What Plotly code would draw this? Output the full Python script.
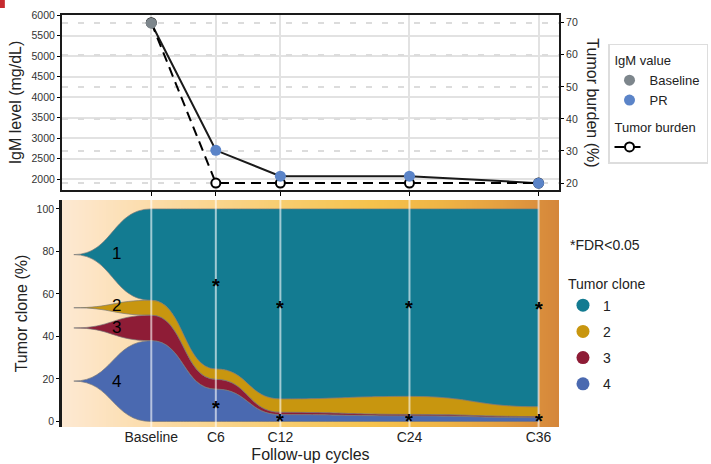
import plotly.graph_objects as go

# ---------------- data ----------------
timepoints = ["Baseline", "C6", "C12", "C24", "C36"]
cycles = [0, 6, 12, 24, 36]
igm_level = [5800, 2700, 2070, 2070, 1900]
igm_status = ["Baseline", "PR", "PR", "PR", "PR"]
tumor_burden = [70, 20, 20, 20, 20]

clone_names = ["1", "2", "3", "4"]
clone1 = [43.0, 75.3, 89.4, 88.2, 93.1]
clone2 = [7.0, 4.9, 6.3, 8.5, 4.6]
clone3 = [12.0, 4.6, 1.1, 0.7, 0.5]
clone4 = [38.0, 15.2, 3.2, 2.6, 1.8]
clone_origin = [78.5, 53.5, 44.0, 19.0]   # emergence level of each clone
origin_cycle = -7.2
fdr_star_high = [None, 64.8, 54.4, 54.4, 53.8]
fdr_star_low = [None, 7.4, 1.2, 1.2, 1.2]

# ---------------- style ----------------
FONT = "Arial, Liberation Sans, sans-serif"
clone_colors = ["#137b91", "#c8960f", "#8e1c36", "#4a69b0"]
grad_pos = [-8.4, -0.1, 12, 20.4, 26.9, 32.5, 38.0]
grad_col = ["#fde9d3", "#fcdcaa", "#f8cd70", "#f6c24c", "#efb445", "#e49f40", "#d4853a"]
XR = [-8.3, 37.9]
IGM_RANGE = [1730, 6000]
TOP_DOMAIN = [0.575, 1]

fig = go.Figure()

# background gradient of lower panel
n = len(grad_pos)
fig.add_trace(go.Heatmap(
    x=grad_pos, y=[-10, 115], z=[list(range(n)), list(range(n))],
    colorscale=[[i / (n - 1), c] for i, c in enumerate(grad_col)],
    zsmooth="best", showscale=False, hoverinfo="skip",
    xaxis="x2", yaxis="y3"))

# ---------------- top panel ----------------
fig.add_trace(go.Scatter(
    x=cycles, y=igm_level, mode="lines", line=dict(color="#1a1a1a", width=2),
    showlegend=False, xaxis="x", yaxis="y", hoverinfo="skip"))
for status, col in [("Baseline", "#7d868c"), ("PR", "#5b84c8")]:
    xs = [c for c, s in zip(cycles, igm_status) if s == status]
    ys = [v for v, s in zip(igm_level, igm_status) if s == status]
    fig.add_trace(go.Scatter(
        x=xs, y=ys, mode="markers", name=status,
        marker=dict(size=11, color=col),
        legendgroup="igm", legendgrouptitle=dict(text="IgM value"),
        xaxis="x", yaxis="y4", legend="legend"))
fig.add_trace(go.Scatter(
    x=cycles, y=tumor_burden, yaxis="y2", xaxis="x",
    mode="lines+markers", name="",
    line=dict(color="black", width=2, dash="10px,6px"),
    marker=dict(symbol="circle", size=9, color="white", line=dict(color="black", width=2)),
    legendgroup="tb", legendgrouptitle=dict(text="Tumor burden"), legend="legend"))

# ---------------- bottom panel streams ----------------
fractions = [clone1, clone2, clone3, clone4]
lowers, uppers = {}, {}
base = [0.0] * len(cycles)
for idx in [3, 2, 1, 0]:
    lo = base[:]
    up = [b + f for b, f in zip(base, fractions[idx])]
    lowers[idx], uppers[idx] = lo, up
    base = up


def stream_path(x0, y0, xs, lo, up):
    p = f"M {x0},{y0}"
    px, py = x0, y0
    for x, u in zip(xs, up):
        xm = (px + x) / 2
        p += f" C {xm},{py} {xm},{u} {x},{u}"
        px, py = x, u
    p += f" L {xs[-1]},{lo[-1]}"
    px, py = xs[-1], lo[-1]
    for x, l in zip(reversed(xs[:-1]), reversed(lo[:-1])):
        xm = (px + x) / 2
        p += f" C {xm},{py} {xm},{l} {x},{l}"
        px, py = x, l
    xm = (px + x0) / 2
    p += f" C {xm},{py} {xm},{y0} {x0},{y0} Z"
    return p


shapes = []
for idx in [0, 1, 2, 3]:
    shapes.append(dict(
        type="path", xref="x2", yref="y3", layer="above",
        path=stream_path(origin_cycle, clone_origin[idx], cycles, lowers[idx], uppers[idx]),
        fillcolor=clone_colors[idx], line=dict(color="rgba(120,120,120,0.85)", width=0.8)))

for c in cycles:
    shapes.append(dict(type="line", xref="x2", yref="y3 domain", x0=c, x1=c, y0=0, y1=1,
                       layer="above", line=dict(color="rgba(255,255,255,0.6)", width=2)))

# small red corner mark
shapes.append(dict(type="rect", xref="paper", yref="paper", x0=-0.126, x1=-0.115,
                   y0=1.017, y1=1.04, fillcolor="#c62a2f", line=dict(width=0), layer="above"))

for idx in range(4):
    fig.add_trace(go.Scatter(
        x=[None], y=[None], mode="markers", name=clone_names[idx],
        marker=dict(size=13, color=clone_colors[idx]),
        legend="legend2", legendgroup=f"c{idx}", xaxis="x2", yaxis="y3",
        legendgrouptitle=dict(text="Tumor clone") if idx == 0 else None))

annotations = []
label_y = [79, 54.4, 44, 18.6]
for idx in range(4):
    annotations.append(dict(x=-3.2, y=label_y[idx], xref="x2", yref="y3", text=clone_names[idx],
                            showarrow=False, font=dict(size=17, color="black", family=FONT)))
for c, h, l in zip(cycles, fdr_star_high, fdr_star_low):
    for v in (h, l):
        if v is not None:
            annotations.append(dict(x=c, y=v, xref="x2", yref="y3", text="<b>*</b>",
                                    showarrow=False, yshift=1, height=16, valign="top",
                                    font=dict(size=20, color="black", family=FONT)))

annotations.append(dict(x=1.068, y=0.786, xref="paper", yref="paper", text="Tumor burden (%)",
                        textangle=90, showarrow=False, xanchor="center", yanchor="middle",
                        font=dict(size=16, color="#222", family=FONT)))
annotations.append(dict(x=1.0185, y=0.442, xref="paper", yref="paper", text="*FDR<0.05",
                        xanchor="left", yanchor="middle", showarrow=False,
                        font=dict(size=14, color="#222", family=FONT)))

grid = "#e2e2e2"
fig.update_layout(
    width=711, height=464,
    margin=dict(l=62, r=152, t=15, b=37, autoexpand=False),
    paper_bgcolor="white", plot_bgcolor="white",
    font=dict(family=FONT, color="#222"),
    shapes=shapes, annotations=annotations,
    xaxis=dict(domain=[0, 1], range=XR, tickvals=cycles, ticktext=timepoints,
               showticklabels=False, ticks="outside", ticklen=4, tickcolor="black",
               showgrid=True, gridcolor=grid, gridwidth=2,
               showline=True, mirror=True, linecolor="#1a1a1a", linewidth=2,
               zeroline=False, anchor="y"),
    yaxis=dict(domain=TOP_DOMAIN, range=IGM_RANGE, tickvals=list(range(2000, 6001, 500)),
               ticks="outside", ticklen=3, tickcolor="black",
               tickfont=dict(size=10.5, color="#333"),
               showgrid=True, gridcolor=grid, gridwidth=1.5,
               showline=True, mirror=True, linecolor="#1a1a1a", linewidth=2, zeroline=False,
               title=dict(text="IgM level (mg/dL)", font=dict(size=16, color="#222"), standoff=6),
               anchor="x"),
    yaxis2=dict(overlaying="y", side="right", anchor="x", range=[17.8, 72.4], domain=TOP_DOMAIN,
                tickvals=[20, 30, 40, 50, 60, 70], ticks="outside", ticklen=3, tickcolor="black",
                tickfont=dict(size=10.5, color="#333"),
                showgrid=True, gridcolor="#dcdcdc", gridwidth=1.5, griddash="6px,10px",
                showline=True, linecolor="#1a1a1a", linewidth=2, zeroline=False),
    yaxis4=dict(overlaying="y", side="left", anchor="x", range=IGM_RANGE, domain=TOP_DOMAIN,
                showticklabels=False, ticks="", showline=False,
                showgrid=False, zeroline=False),
    xaxis2=dict(domain=[0, 1], range=XR, tickvals=cycles, ticktext=timepoints,
                tickfont=dict(size=14, color="#222"), ticks="", ticklabelstandoff=0,
                showgrid=False, showline=False, zeroline=False, anchor="y3",
                title=dict(text="Follow-up cycles", font=dict(size=16, color="#222"), standoff=4)),
    yaxis3=dict(domain=[0, 0.551], range=[-2.6, 104.2], tickvals=[0, 20, 40, 60, 80, 100],
                ticks="outside", ticklen=3, tickcolor="black",
                tickfont=dict(size=10.5, color="#333"), showgrid=False, zeroline=False,
                showline=True, linecolor="#1a1a1a", linewidth=2.5, anchor="x2",
                title=dict(text="Tumor clone (%)", font=dict(size=16, color="#222"), standoff=6)),
    legend=dict(x=1.0986, y=0.93, xanchor="left", yanchor="top",
                bordercolor="#dddddd", borderwidth=1.5, bgcolor="white",
                font=dict(size=13, color="#222"), tracegroupgap=7, itemwidth=30,
                grouptitlefont=dict(size=13, color="#222"), traceorder="grouped"),
    legend2=dict(x=1.008, y=0.385, xanchor="left", yanchor="top",
                 bgcolor="rgba(0,0,0,0)", borderwidth=0, itemwidth=30,
                 font=dict(size=14, color="#222"), tracegroupgap=5,
                 grouptitlefont=dict(size=14, color="#222")),
)

fig.write_html("out.html")
